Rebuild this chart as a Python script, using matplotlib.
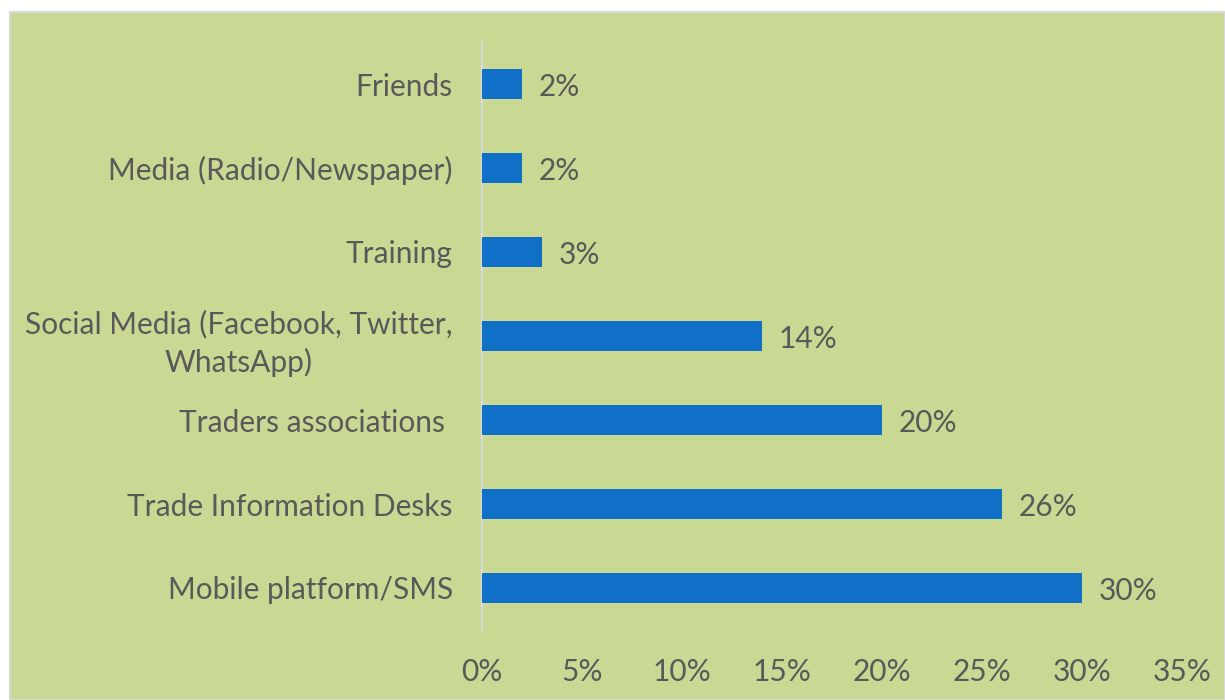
import numpy as np
import matplotlib
matplotlib.use('Agg')
import matplotlib.pyplot as plt
from matplotlib.patches import Rectangle

# channels, bottom to top
channels = ['Mobile platform/SMS', 'Trade Information Desks', 'Traders associations ',
            'Social Media (Facebook, Twitter,\nWhatsApp)', 'Training',
            'Media (Radio/Newspaper)', 'Friends']
shares = [30, 26, 20, 14, 3, 2, 2]
x_ticks = [0, 5, 10, 15, 20, 25, 30, 35]

bg = '#c9d994'
bar_col = '#106fc7'
txt_col = '#595959'
font = 'Lato'
fs = 21.5

fig = plt.figure(figsize=(12.25, 7), dpi=100)
fig.patch.set_facecolor('white')
# green panel with a thin grey frame, offset a little from the top-left corner
fig.patches.append(Rectangle((10 / 1225, 0), 1 - 10 / 1225, 1 - 12 / 700,
                             transform=fig.transFigure, facecolor=bg,
                             edgecolor='#d9d9d9', linewidth=1.5, zorder=-5))

ax = fig.add_axes([482 / 1225, 1 - 630 / 700, 700 / 1225, 588 / 700])
ax.set_facecolor('none')
y = np.arange(len(channels))
ax.barh(y, shares, height=0.36, color=bar_col, zorder=3)
for yi, v in zip(y, shares):
    ax.annotate('{}%'.format(v), (v, yi), xytext=(17, 0), textcoords='offset pixels',
                va='center_baseline', ha='left', fontsize=fs, color=txt_col, family=font)

ax.set_xlim(0, 35)
ax.set_ylim(-0.5, len(channels) - 0.5)
ax.set_xticks(x_ticks)
ax.set_xticklabels(['{}%'.format(t) for t in x_ticks], fontsize=fs, color=txt_col, family=font)
ax.set_yticks(y)
ax.set_yticklabels(channels, fontsize=fs, color=txt_col, family=font,
                   multialignment='center', linespacing=1.4)
ax.tick_params(axis='both', length=0)
ax.tick_params(axis='y', pad=21)
ax.tick_params(axis='x', pad=20)
for s in ['top', 'right', 'bottom']:
    ax.spines[s].set_visible(False)
ax.spines['left'].set_color('#d9d9d9')
ax.spines['left'].set_linewidth(1.5)

plt.savefig('out.png', dpi=100, facecolor=fig.get_facecolor())
